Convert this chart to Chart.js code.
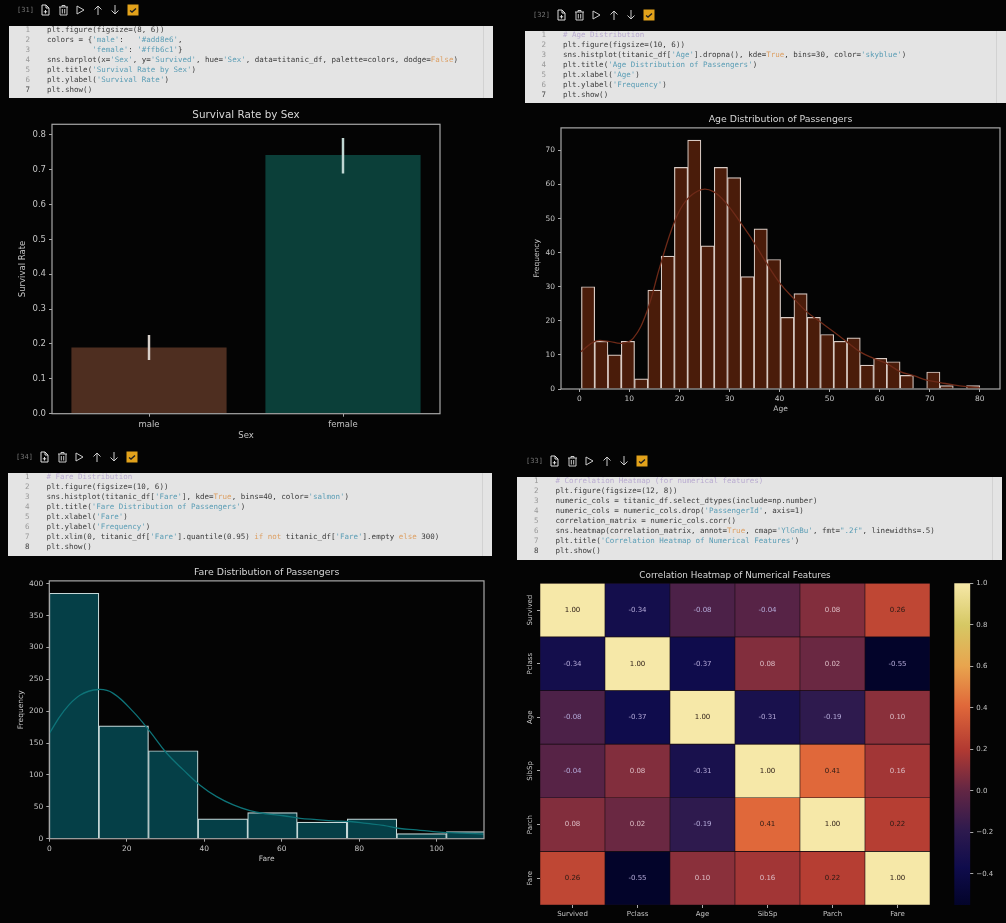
<!DOCTYPE html>
<html>
<head>
<meta charset="utf-8">
<title>Titanic notebook charts</title>
<script src="https://cdn.jsdelivr.net/npm/chart.js@4/dist/chart.umd.min.js"></script>
<style>
  html, body { margin: 0; padding: 0; background: #040404; overflow: hidden; }
  body { position: relative; width: 1006px; height: 923px; font-family: "DejaVu Sans", sans-serif; }
  canvas { position: absolute; filter: blur(0.4px); }
  .toolbar { position: absolute; height: 14px; filter: blur(0.3px); }
  .toolbar span { position: absolute; top: 0; font: 7px/14px "DejaVu Sans Mono", monospace; color: #777; }
  .toolbar svg { position: absolute; top: 0; width: 14px; height: 14px; }
  .code { position: absolute; background: #e4e4e4; overflow: hidden; filter: blur(0.45px);
    font: 7.5px/10.05px "DejaVu Sans Mono", monospace; color: #3a3a3a; box-sizing: border-box; }
  .code .row { position: absolute; white-space: pre; }
  .code .num { position: absolute; color: #999; width: 10px; text-align: right; }
  .code .num.last { color: #444; }
  .code .bar { position: absolute; top: 0; bottom: 0; width: 1px; background: #d2d2d2; }
  .str { color: #5a9db5; }
  .key { color: #dd9f62; }
  .com { color: #b9abd0; }
</style>
</head>
<body>
<canvas id="sexChart" width="492" height="340" style="left:0;top:104px"></canvas>
<canvas id="ageChart" width="490" height="313" style="left:516px;top:106px"></canvas>
<canvas id="fareChart" width="495" height="310" style="left:0;top:560px"></canvas>
<canvas id="heatChart" width="430" height="361" style="left:510px;top:562px"></canvas>
<canvas id="barChart" width="66" height="353" style="left:940px;top:570px"></canvas>

<script>
// notebook cells
const sexCode = [
  "plt.figure(figsize=(8, 6))",
  "colors = {'male':   '#add8e6',",
  "          'female': '#ffb6c1'}",
  "sns.barplot(x='Sex', y='Survived', hue='Sex', data=titanic_df, palette=colors, dodge=False)",
  "plt.title('Survival Rate by Sex')",
  "plt.ylabel('Survival Rate')",
  "plt.show()",
];
const ageCode = [
  "# Age Distribution",
  "plt.figure(figsize=(10, 6))",
  "sns.histplot(titanic_df['Age'].dropna(), kde=True, bins=30, color='skyblue')",
  "plt.title('Age Distribution of Passengers')",
  "plt.xlabel('Age')",
  "plt.ylabel('Frequency')",
  "plt.show()",
];
const fareCode = [
  "# Fare Distribution",
  "plt.figure(figsize=(10, 6))",
  "sns.histplot(titanic_df['Fare'], kde=True, bins=40, color='salmon')",
  "plt.title('Fare Distribution of Passengers')",
  "plt.xlabel('Fare')",
  "plt.ylabel('Frequency')",
  "plt.xlim(0, titanic_df['Fare'].quantile(0.95) if not titanic_df['Fare'].empty else 300)",
  "plt.show()",
];
const heatCode = [
  "# Correlation Heatmap (for numerical features)",
  "plt.figure(figsize=(12, 8))",
  "numeric_cols = titanic_df.select_dtypes(include=np.number)",
  "numeric_cols = numeric_cols.drop('PassengerId', axis=1)",
  "correlation_matrix = numeric_cols.corr()",
  "sns.heatmap(correlation_matrix, annot=True, cmap='YlGnBu', fmt=\".2f\", linewidths=.5)",
  "plt.title('Correlation Heatmap of Numerical Features')",
  "plt.show()",
];

// survival bars
const sexLabels = ["male", "female"];
const survivalRates = [0.19, 0.742];
const survivalErrors = [[0.155, 0.225], [0.69, 0.79]];
const survivalTicks = [0, 0.1, 0.2, 0.3, 0.4, 0.5, 0.6, 0.7, 0.8];

// age histogram
const ageBins = [1.75, 4.4, 7.05, 9.71, 12.36, 15.01, 17.67, 20.32, 22.97, 25.63, 28.28, 30.93, 33.59, 36.24, 38.89,
  41.55, 44.2, 46.85, 49.51, 52.16, 54.81, 57.47, 60.12, 62.77, 65.43, 68.08, 70.73, 73.39, 76.04, 78.69];
const ageCounts = [30, 14, 10, 14, 3, 29, 39, 65, 73, 42, 65, 62, 33, 47, 38,
  21, 28, 21, 16, 14, 15, 7, 9, 8, 4, 0, 5, 1, 0, 1];
const ageKdeX = [0.3, 3.1, 5.8, 8.5, 10.8, 13.5, 16.1, 19, 21.4, 24.4, 26.8, 29.4, 32.1, 34.8, 37.4, 40.1,
  42.8, 45.4, 48.1, 50.8, 53.4, 56.1, 58.8, 61.4, 64.1, 66.8, 69.4, 72.1, 74.7, 77.4, 80];
const ageKdeY = [10.9, 14, 14, 13.4, 14.9, 22.7, 35.9, 49, 55.4, 58.5, 57.9, 54.4, 49, 43.2, 36.9, 31,
  26.6, 22.7, 19.7, 16.8, 13.9, 10.9, 9, 7.5, 5.1, 3.9, 2.6, 1.9, 1.2, 0.7, 0.4];
const ageXTicks = [0, 10, 20, 30, 40, 50, 60, 70, 80];
const ageYTicks = [0, 10, 20, 30, 40, 50, 60, 70];

// fare histogram
const fareBins = [6.4, 19.2, 32, 44.8, 57.6, 70.4, 83.3, 96.1, 108.9];
const fareCounts = [385, 177, 138, 31, 41, 26, 31, 8, 11];
const fareKdeX = [0, 3.6, 7.9, 12.7, 16.5, 21.7, 26, 30.3, 34.6, 38.9, 43.2, 47.5, 51.8, 56.1, 60.4, 64.7,
  69, 73.3, 77.6, 81.9, 86.2, 90.5, 94.8, 99.1, 103.4, 107.7, 112.2];
const fareKdeY = [165, 199, 225, 234, 228, 199, 168, 134, 108, 84, 66, 53, 44, 39, 36, 32,
  30, 28, 27, 24, 21, 16, 14, 11, 9.4, 8.4, 7.3];
const fareXTicks = [0, 20, 40, 60, 80, 100];
const fareYTicks = [0, 50, 100, 150, 200, 250, 300, 350, 400];

// correlation heatmap
const features = ["Survived", "Pclass", "Age", "SibSp", "Parch", "Fare"];
const corrMatrix = [
  [1.00, -0.34, -0.08, -0.04, 0.08, 0.26],
  [-0.34, 1.00, -0.37, 0.08, 0.02, -0.55],
  [-0.08, -0.37, 1.00, -0.31, -0.19, 0.10],
  [-0.04, 0.08, -0.31, 1.00, 0.41, 0.16],
  [0.08, 0.02, -0.19, 0.41, 1.00, 0.22],
  [0.26, -0.55, 0.10, 0.16, 0.22, 1.00],
];
const colorbarTicks = [-0.4, -0.2, 0, 0.2, 0.4, 0.6, 0.8, 1.0];
const cmapValues = [-0.55, -0.37, -0.19, 0, 0.2, 0.41, 0.6, 0.8, 1];
const cmapColors = [[3, 4, 42], [15, 12, 76], [46, 26, 78], [98, 38, 68], [178, 58, 50], [224, 104, 58], [232, 164, 78], [214, 200, 100], [246, 232, 168]];

const TICK = "#c4c4c4";
const FRAME = "#a8a8a8";
const FONT = "'DejaVu Sans', sans-serif";

function cmap(v) {
  let i = 0;
  while (i < cmapValues.length - 2 && v > cmapValues[i + 1]) i++;
  const t = Math.max(0, Math.min(1, (v - cmapValues[i]) / (cmapValues[i + 1] - cmapValues[i])));
  const c = cmapColors[i].map((a, k) => Math.round(a + (cmapColors[i + 1][k] - a) * t));
  return `rgb(${c[0]},${c[1]},${c[2]})`;
}

// toolbar + code cells are plain html
const ICONS = [
  '<path d="M4 2h4l3 3v7H4z M8 2v3h3 M7.5 7v3.5 M5.8 8.8h3.4" fill="none" stroke="#ddd" stroke-width="1"/>',
  '<path d="M3 4h9 M6 4V2.5h3V4 M4 4v8h7V4 M6.3 6v4.5 M8.7 6v4.5" fill="none" stroke="#ccc" stroke-width="1"/>',
  '<path d="M4 3l7 4-7 4z" fill="none" stroke="#ccc" stroke-width="1"/>',
  '<path d="M7 12V3 M3.5 6.5L7 3l3.5 3.5" fill="none" stroke="#ccc" stroke-width="1"/>',
  '<path d="M7 2v9 M3.5 7.5L7 11l3.5-3.5" fill="none" stroke="#ccc" stroke-width="1"/>',
  '<rect x="1.5" y="1.5" width="11" height="11" fill="#e2a21b"/><path d="M4 7.5l2 1.5 4-3.5" fill="none" stroke="#222" stroke-width="1.4"/>',
];

function addToolbar(cell, left, top) {
  const bar = document.createElement("div");
  bar.className = "toolbar";
  bar.style.left = left + "px";
  bar.style.top = top + "px";
  let html = `<span style="left:0">[${cell}]</span>`;
  ICONS.forEach((icon, i) => {
    html += `<svg viewBox="0 0 14 14" style="left:${21 + i * 17.5}px">${icon}</svg>`;
  });
  bar.innerHTML = html;
  document.body.appendChild(bar);
}

function paintCode(line) {
  const safe = line.replace(/&/g, "&amp;").replace(/</g, "&lt;");
  if (safe.startsWith("#")) return `<span class="com">${safe}</span>`;
  return safe
    .replace(/('[^']*'|"[^"]*")/g, '<span class="str">$1</span>')
    .replace(/\b(True|False|if|not|else)\b/g, '<span class="key">$1</span>');
}

function addCode(lines, left, top, width, height, textLeft, firstY) {
  const box = document.createElement("div");
  box.className = "code";
  box.style.cssText = `left:${left}px;top:${top}px;width:${width}px;height:${height}px`;
  let html = `<div class="bar" style="right:9px"></div>`;
  lines.forEach((line, i) => {
    const y = firstY + i * 10.05;
    const last = i === lines.length - 1 ? " last" : "";
    html += `<div class="num${last}" style="left:${textLeft - 27}px;top:${y}px">${i + 1}</div>`;
    html += `<div class="row" style="left:${textLeft}px;top:${y}px">${paintCode(line)}</div>`;
  });
  box.innerHTML = html;
  document.body.appendChild(box);
}

addToolbar(31, 17, 3);
addToolbar(32, 533, 8);
addToolbar(34, 16, 450);
addToolbar(33, 526, 454);
addCode(sexCode, 9, 26, 484, 72, 38, -1);
addCode(ageCode, 524.5, 31, 481.5, 72, 38.5, -1);
addCode(fareCode, 7.5, 472.5, 484.5, 83, 39, -1);
addCode(heatCode, 516.5, 477, 485.5, 83, 39, -1.5);

// draws the box around the axes
const framePlugin = {
  id: "frame",
  afterDraw(chart) {
    const a = chart.chartArea;
    const ctx = chart.ctx;
    ctx.save();
    ctx.strokeStyle = FRAME;
    ctx.lineWidth = 1.2;
    ctx.strokeRect(a.left, a.top, a.right - a.left, a.bottom - a.top);
    ctx.restore();
  },
};

// correlation values on top of the cells
const annotPlugin = {
  id: "annot",
  afterDatasetsDraw(chart) {
    const ctx = chart.ctx;
    ctx.save();
    ctx.font = "7px " + FONT;
    ctx.textAlign = "center";
    ctx.textBaseline = "middle";
    chart.data.datasets.forEach((ds, r) => {
      chart.getDatasetMeta(r).data.forEach((cell, c) => {
        const v = corrMatrix[r][c];
        ctx.fillStyle = v > 0.2 ? "#2a1a14" : v < 0 ? "#b4aad8" : "#dcbcc4";
        const p = cell.getCenterPoint();
        ctx.fillText(v.toFixed(2), p.x, p.y);
      });
    });
    ctx.restore();
  },
};

function titleOpt(text, size, top, bottom) {
  return {
    display: true, text, color: "#d6d6d6", fullSize: false,
    font: { family: FONT, size, weight: "normal" },
    padding: { top, bottom },
  };
}

function axisTitle(text, size, padding) {
  return { display: true, text, color: TICK, font: { family: FONT, size }, padding };
}

function valueAxis(tickValues, min, max, size, fixed, tickPad, title, fmt) {
  const opt = {
    type: "linear", min, max,
    offset: false,
    title,
    border: { display: false },
    grid: { drawOnChartArea: false, tickLength: 3, color: FRAME, offset: false },
    ticks: { color: TICK, padding: tickPad, autoSkip: false, maxRotation: 0, font: { family: FONT, size } },
    afterBuildTicks: (s) => { s.ticks = tickValues.map((value) => ({ value })); },
  };
  if (fmt) opt.ticks.callback = fmt;
  opt.afterFit = (s) => {
    if (s.isHorizontal()) s.height = fixed; else s.width = fixed;
  };
  return opt;
}

new Chart("sexChart", {
  type: "bar",
  data: {
    labels: sexLabels,
    datasets: [
      {
        data: survivalErrors,
        grouped: false,
        order: 0,
        barThickness: 1.8,
        backgroundColor: ["#d8d0ca", "#bfd6d2"],
      },
      {
        data: survivalRates,
        grouped: false,
        order: 1,
        barPercentage: 0.8,
        categoryPercentage: 1,
        backgroundColor: ["#4e2e20", "#0b3f39"],
      },
    ],
  },
  plugins: [framePlugin],
  options: {
    responsive: false,
    animation: false,
    layout: { padding: { right: 52 } },
    plugins: {
      legend: { display: false },
      tooltip: { enabled: false },
      title: titleOpt("Survival Rate by Sex", 10.4, 5, 2.8),
    },
    scales: {
      x: {
        title: axisTitle("Sex", 8.5, { bottom: 3 }),
        border: { display: false },
        grid: { drawOnChartArea: false, tickLength: 3, color: FRAME, offset: false },
        ticks: { color: TICK, padding: 3, font: { family: FONT, size: 8.5 } },
        afterFit: (s) => { s.height = 30.3; },
      },
      y: valueAxis(survivalTicks, 0, 0.83, 8.5, 52, 3, axisTitle("Survival Rate", 8.5, { top: 18 }), (v) => v.toFixed(1)),
    },
  },
});

function histogram(id, bins, counts, kdeX, kdeY, fill, edge, line, opts) {
  return new Chart(id, {
    type: "bar",
    data: {
      datasets: [
        {
          type: "line",
          order: 0,
          data: kdeX.map((x, i) => ({ x, y: kdeY[i] })),
          borderColor: line,
          borderWidth: 1.3,
          pointRadius: 0,
          tension: 0.4,
        },
        {
          order: 1,
          data: bins.map((x, i) => ({ x, y: counts[i] })),
          backgroundColor: fill,
          borderColor: edge,
          borderWidth: 1.2,
          barPercentage: 1,
          categoryPercentage: 1,
        },
      ],
    },
    plugins: [framePlugin],
    options: {
      responsive: false,
      animation: false,
      layout: { padding: { right: opts.right } },
      plugins: {
        legend: { display: false },
        tooltip: { enabled: false },
        title: opts.title,
      },
      scales: { x: opts.x, y: opts.y },
    },
  });
}

const intLabel = (v) => String(v);

histogram("ageChart", ageBins, ageCounts, ageKdeX, ageKdeY, "#4a1c0a", "#d9cbc4", "#6e2a18", {
  right: 6,
  title: titleOpt("Age Distribution of Passengers", 9.4, 7.7, 2.9),
  x: valueAxis(ageXTicks, -3.66, 84.05, 7.5, 30, 2.5, axisTitle("Age", 7.5, { bottom: 5.5 }), intLabel),
  y: valueAxis(ageYTicks, 0, 76.6, 7.5, 45, 3, axisTitle("Frequency", 7.5, { top: 17 }), intLabel),
});

histogram("fareChart", fareBins, fareCounts, fareKdeX, fareKdeY, "#053f47", "#c6d8d8", "#0e7378", {
  right: 11,
  title: titleOpt("Fare Distribution of Passengers", 9.4, 6.7, 2.9),
  x: valueAxis(fareXTicks, 0, 112.2, 7.5, 31.3, 2.5, axisTitle("Fare", 7.5, { bottom: 6.8 }), intLabel),
  y: valueAxis(fareYTicks, 0, 404.4, 7.5, 49.3, 3, axisTitle("Frequency", 7.5, { top: 17 }), intLabel),
});

// heatmap: one floating bar per cell, one dataset per row
new Chart("heatChart", {
  type: "bar",
  data: {
    labels: features,
    datasets: corrMatrix.map((row, r) => ({
      data: row.map(() => [r, r + 1]),
      grouped: false,
      barPercentage: 1,
      categoryPercentage: 1,
      backgroundColor: row.map(cmap),
      borderColor: "#1a0d14",
      borderWidth: 0.6,
      borderSkipped: false,
    })),
  },
  plugins: [annotPlugin],
  options: {
    responsive: false,
    animation: false,
    layout: { padding: { right: 10 } },
    plugins: {
      legend: { display: false },
      tooltip: { enabled: false },
      title: titleOpt("Correlation Heatmap of Numerical Features", 8.8, 8.4, 2.3),
    },
    scales: {
      x: {
        border: { display: false },
        grid: { drawOnChartArea: false, tickLength: 3, color: FRAME, offset: false },
        ticks: { color: TICK, padding: 2, maxRotation: 0, font: { family: FONT, size: 7 } },
        afterFit: (s) => { s.height = 18; },
      },
      y: {
        type: "linear",
        reverse: true,
        min: 0,
        max: 6,
        border: { display: false },
        grid: { drawOnChartArea: false, tickLength: 3, color: FRAME },
        ticks: {
          color: TICK,
          padding: -9,
          autoSkip: false,
          minRotation: 90,
          maxRotation: 90,
          crossAlign: "center",
          font: { family: FONT, size: 7 },
          callback: (v) => features[Math.floor(v)],
        },
        afterBuildTicks: (s) => { s.ticks = features.map((f, i) => ({ value: i + 0.5 })); },
        afterFit: (s) => { s.width = 30; },
      },
    },
  },
});

const colorbarAxis = valueAxis(colorbarTicks, cmapValues[0], 1, 7, 35.7, 3, undefined,
  (v) => (v < 0 ? "\u2212" + Math.abs(v).toFixed(1) : v.toFixed(1)));
colorbarAxis.position = "right";

new Chart("barChart", {
  type: "bar",
  data: {
    labels: [""],
    datasets: [{
      data: [[cmapValues[0], 1]],
      barPercentage: 1,
      categoryPercentage: 1,
      backgroundColor: (c) => {
        const a = c.chart.chartArea;
        if (!a) return "#000";
        const g = c.chart.ctx.createLinearGradient(0, a.bottom, 0, a.top);
        const lo = cmapValues[0];
        cmapValues.forEach((v, i) => g.addColorStop((v - lo) / (1 - lo), cmap(v)));
        return g;
      },
    }],
  },
  options: {
    responsive: false,
    animation: false,
    layout: { padding: { left: 14.3, top: 13.3, bottom: 18 } },
    plugins: { legend: { display: false }, tooltip: { enabled: false } },
    scales: {
      x: { display: false },
      y: colorbarAxis,
    },
  },
});
</script>
</body>
</html>
